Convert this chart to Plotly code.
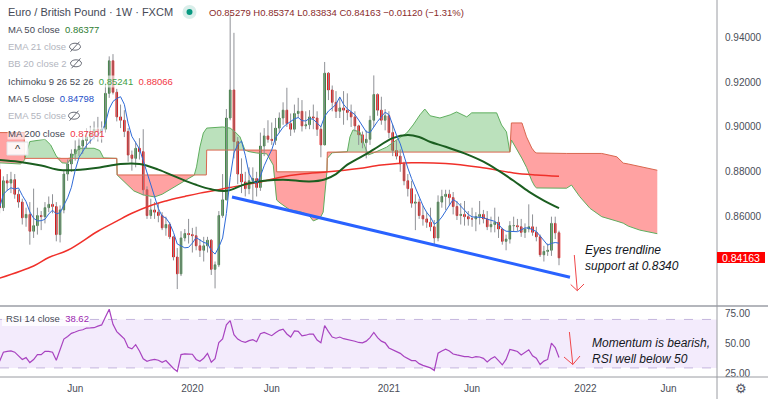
import numpy as np
import pandas as pd
import plotly.graph_objects as go

# ---------------- data (weekly EUR/GBP, FXCM) ----------------
START = pd.Timestamp("2019-01-14")
FIRST_OPEN = 0.8810

closes = [
    0.8640, 0.8760, 0.8750, 0.8765, 0.8700, 0.8665, 0.8595, 0.8610, 0.8535, 0.8560,
    0.8605, 0.8600, 0.8640, 0.8655, 0.8645, 0.8520, 0.8630, 0.8790, 0.8835, 0.8880,
    0.8900, 0.8915, 0.8940, 0.8955, 0.8975, 0.8990, 0.8980, 0.8990, 0.9150, 0.9295,
    0.9155, 0.9045, 0.9030, 0.8980, 0.8875, 0.8860, 0.8905, 0.8890, 0.8720, 0.8605,
    0.8630, 0.8620, 0.8605, 0.8550, 0.8565, 0.8510, 0.8420, 0.8345, 0.8505, 0.8525,
    0.8520, 0.8515, 0.8470, 0.8450, 0.8470, 0.8495, 0.8365, 0.8385, 0.8605, 0.8675,
    0.9040, 0.9165, 0.8935, 0.8790, 0.8755, 0.8725, 0.8760, 0.8770, 0.8730, 0.8915,
    0.8960, 0.8945, 0.8940, 0.8995, 0.9040, 0.9075, 0.9015, 0.8990, 0.9060, 0.9070,
    0.9005, 0.9010, 0.9045, 0.9040, 0.8990, 0.8920, 0.9240, 0.9165, 0.9110, 0.9070,
    0.9085, 0.9075, 0.9065, 0.9045, 0.9005, 0.8965, 0.8930, 0.8945, 0.9030, 0.9145,
    0.9075, 0.9030, 0.9050, 0.8975, 0.8895, 0.8870, 0.8835, 0.8760, 0.8725, 0.8660,
    0.8665, 0.8605, 0.8590, 0.8575, 0.8555, 0.8505, 0.8665, 0.8690, 0.8700, 0.8685,
    0.8645, 0.8605, 0.8610, 0.8600, 0.8590, 0.8590, 0.8600, 0.8610, 0.8590, 0.8555,
    0.8565, 0.8575, 0.8545, 0.8490, 0.8500, 0.8560, 0.8560, 0.8555, 0.8530, 0.8545,
    0.8555, 0.8530, 0.8510, 0.8430, 0.8445, 0.8450, 0.8570, 0.85279, 0.84163,
]
highs = [
    0.8850, 0.8780, 0.8790, 0.8800, 0.8790, 0.8720, 0.8680, 0.8640, 0.8665, 0.8725,
    0.8640, 0.8625, 0.8665, 0.8690, 0.8700, 0.8665, 0.8650, 0.8805, 0.8855, 0.8900,
    0.8940, 0.8950, 0.8970, 0.8995, 0.9005, 0.9025, 0.9045, 0.9025, 0.9195, 0.9315,
    0.9325, 0.9170, 0.9100, 0.9075, 0.8995, 0.8895, 0.8935, 0.8950, 0.8990, 0.8735,
    0.8680, 0.8665, 0.8660, 0.8620, 0.8600, 0.8575, 0.8515, 0.8460, 0.8535, 0.8545,
    0.8590, 0.8550, 0.8555, 0.8500, 0.8510, 0.8510, 0.8500, 0.8400, 0.8625, 0.8790,
    0.9080, 0.9499, 0.9420, 0.8955, 0.8860, 0.8800, 0.8820, 0.8820, 0.8800, 0.8975,
    0.8995, 0.9030, 0.9020, 0.9040, 0.9065, 0.9110, 0.9175, 0.9060, 0.9100, 0.9130,
    0.9120, 0.9070, 0.9075, 0.9100, 0.9070, 0.9005, 0.9290, 0.9245, 0.9185, 0.9160,
    0.9130, 0.9160, 0.9150, 0.9100, 0.9070, 0.9010, 0.8980, 0.8985, 0.9050, 0.9230,
    0.9150, 0.9135, 0.9080, 0.9070, 0.9010, 0.8940, 0.8900, 0.8845, 0.8790, 0.8760,
    0.8700, 0.8680, 0.8650, 0.8620, 0.8640, 0.8585, 0.8695, 0.8720, 0.8720, 0.8720,
    0.8710, 0.8670, 0.8660, 0.8670, 0.8625, 0.8640, 0.8620, 0.8670, 0.8630, 0.8625,
    0.8600, 0.8640, 0.8600, 0.8550, 0.8520, 0.8580, 0.8600, 0.8590, 0.8590, 0.8570,
    0.8655, 0.8610, 0.8555, 0.8520, 0.8470, 0.8480, 0.8600, 0.8600, 0.85374,
]
lows = [
    0.8615, 0.8625, 0.8715, 0.8705, 0.8680, 0.8640, 0.8565, 0.8555, 0.8475, 0.8505,
    0.8520, 0.8540, 0.8570, 0.8620, 0.8615, 0.8490, 0.8485, 0.8615, 0.8760, 0.8800,
    0.8850, 0.8870, 0.8880, 0.8905, 0.8925, 0.8945, 0.8935, 0.8930, 0.8975, 0.9130,
    0.9145, 0.9025, 0.8995, 0.8955, 0.8845, 0.8805, 0.8820, 0.8855, 0.8695, 0.8590,
    0.8590, 0.8590, 0.8575, 0.8540, 0.8515, 0.8500, 0.8405, 0.8277, 0.8335, 0.8490,
    0.8480, 0.8440, 0.8450, 0.8420, 0.8400, 0.8440, 0.8340, 0.8280, 0.8375, 0.8595,
    0.8675, 0.9030, 0.8860, 0.8745, 0.8705, 0.8690, 0.8700, 0.8670, 0.8690, 0.8715,
    0.8870, 0.8930, 0.8920, 0.8920, 0.8975, 0.9010, 0.9000, 0.8960, 0.8975, 0.9040,
    0.8980, 0.8990, 0.8990, 0.8990, 0.8960, 0.8865, 0.8920, 0.9120, 0.9070, 0.9040,
    0.9040, 0.9010, 0.9030, 0.9000, 0.8980, 0.8920, 0.8905, 0.8860, 0.8920, 0.9000,
    0.9050, 0.9010, 0.8985, 0.8950, 0.8870, 0.8855, 0.8800, 0.8740, 0.8690, 0.8640,
    0.8540, 0.8590, 0.8560, 0.8550, 0.8535, 0.8470, 0.8490, 0.8640, 0.8630, 0.8650,
    0.8610, 0.8585, 0.8565, 0.8560, 0.8560, 0.8555, 0.8535, 0.8565, 0.8570, 0.8540,
    0.8530, 0.8530, 0.8505, 0.8475, 0.8450, 0.8480, 0.8535, 0.8535, 0.8510, 0.8505,
    0.8530, 0.8515, 0.8490, 0.8420, 0.8400, 0.8425, 0.8425, 0.8500, 0.83834,
]
rsi_vals = [
    35.5, 42.9, 43.7, 44.0, 43.0, 39.6, 36.9, 38.5, 34.4, 36.9,
    41.0, 41.0, 43.7, 43.7, 42.9, 36.3, 45.1, 53.8, 56.0, 58.5,
    59.6, 60.9, 61.5, 62.9, 63.0, 63.2, 64.5, 65.5, 72.0, 78.4,
    66.0, 60.0, 57.0, 54.0, 47.0, 45.7, 49.2, 44.0, 37.5, 35.5,
    36.5, 37.0, 36.3, 34.7, 36.1, 32.5, 29.5, 27.0, 41.0, 41.6,
    41.5, 41.3, 37.0, 35.5, 38.0, 42.0, 34.7, 37.7, 51.0, 54.0,
    65.6, 69.1, 57.4, 53.8, 52.0, 51.1, 52.5, 53.3, 51.6, 58.2,
    59.3, 58.0, 56.6, 59.0, 61.0, 62.0, 58.0, 55.5, 60.6, 60.2,
    56.4, 57.0, 58.0, 57.9, 53.0, 50.7, 65.0, 60.0, 55.5, 54.5,
    55.5, 54.1, 53.5, 53.0, 52.0, 51.0, 50.7, 52.1, 55.0, 59.3,
    55.0, 52.1, 50.7, 46.5, 45.0, 43.6, 42.0, 39.5, 37.9, 36.0,
    36.0, 33.5, 32.1, 31.0, 30.0, 27.9, 42.1, 44.0, 45.4, 44.0,
    41.5, 40.7, 40.0, 39.3, 39.3, 38.4, 39.3, 39.0, 37.9, 35.0,
    37.5, 39.3, 36.0, 32.5, 37.0, 45.2, 44.5, 43.6, 40.7, 43.0,
    45.0, 40.0, 38.0, 32.8, 35.6, 37.0, 50.4, 46.8, 38.62,
]

# moving averages (week index, value)
ma50_idx = [0, 5, 11, 16, 20, 26, 32, 37, 42, 47, 52, 56, 60, 65, 70, 75, 82, 86, 89,
            92, 96, 99, 104, 108, 111, 114, 118, 123, 128, 132, 136, 140, 144, 148]
ma50_vals = [0.8853, 0.8845, 0.8828, 0.8808, 0.8808, 0.8818, 0.8835, 0.8835, 0.8810,
             0.8775, 0.8742, 0.8722, 0.8715, 0.8745, 0.8760, 0.8765, 0.8757, 0.8766,
             0.8790, 0.8832, 0.8870, 0.8900, 0.8950, 0.8964, 0.8955, 0.8933, 0.8912,
             0.8882, 0.8845, 0.8805, 0.8760, 0.8712, 0.8672, 0.8638]
ma200_idx = [0, 9, 13, 18, 26, 31, 35, 40, 44, 49, 53, 61, 69, 74, 80, 87, 95, 101,
             109, 118, 127, 136, 142, 148]
ma200_vals = [0.8326, 0.8380, 0.8418, 0.8450, 0.8535, 0.8580, 0.8615, 0.8650, 0.8670,
              0.8690, 0.8705, 0.8730, 0.8755, 0.8775, 0.8790, 0.8800, 0.8815, 0.8830,
              0.8840, 0.8837, 0.8820, 0.8795, 0.8786, 0.8780]

# Ichimoku cloud (leading spans, week index incl. 26-week projection)
cloud_idx = [0, 5.5, 6.5, 6.6, 8, 12, 13.5, 15, 16.5, 18, 19.5, 21, 25, 26.5, 27.5, 31,
             31.1, 33.5, 35.5, 38, 41, 43, 45, 47, 49.5, 51.5, 52.1, 53, 53.9, 54.7,
             54.8, 59, 61, 62.3, 63.6, 64.9, 66, 68, 70.7, 72.4, 73.2,
             73.3, 74.2, 76.8, 79.5, 81.7, 83, 84.8, 85.6, 86.3, 86.6,
             86.7, 88, 92, 92.7, 93.5, 95.3, 96.7, 97.5, 98.9, 100.6, 102.4, 105, 107.7,
             109.4, 111.2, 112.5, 113.9, 116.5, 119.2, 120.9, 123.6, 124.9, 131.5, 132.8,
             134.1, 135.0,
             135.4, 138.2, 139.4, 140.8, 141.6, 142.1, 150, 151.3, 153.5, 156.2, 159.3,
             163.3, 165, 166.3, 169.4, 174]
span_a = [0.8840, 0.8835, 0.8850, 0.8855, 0.8935, 0.8945, 0.8920, 0.8870, 0.8840, 0.8838,
          0.8875, 0.8905, 0.8905, 0.8895, 0.8862, 0.8860,
          0.8786, 0.8745, 0.8715, 0.8697, 0.8688, 0.8700, 0.8720, 0.8740, 0.8762, 0.8785,
          0.8822, 0.8911, 0.8973, 0.8995,
          0.8995, 0.9000, 0.8995, 0.8978, 0.8956, 0.8897, 0.8890, 0.8884, 0.8880, 0.8830,
          0.8674,
          0.8674, 0.8661, 0.8630, 0.8622, 0.8608, 0.8581, 0.8594, 0.8620, 0.8733, 0.8800,
          0.8860, 0.8885, 0.8890, 0.8956, 0.8987, 0.8978, 0.8911, 0.8875, 0.8884, 0.8895,
          0.8910, 0.8942, 0.8973, 0.9009, 0.9054, 0.9080, 0.9050, 0.9040, 0.9054, 0.9067,
          0.9045, 0.9063, 0.9063, 0.9009, 0.8978, 0.8888,
          0.8942, 0.8860, 0.8820, 0.8760, 0.8735, 0.8728, 0.8727, 0.8741, 0.8689, 0.8637,
          0.8600, 0.8580, 0.8571, 0.8558, 0.8540, 0.8524]
span_b = [0.8975, 0.8975, 0.8975, 0.8860, 0.8860, 0.8860, 0.8860, 0.8860, 0.8860, 0.8860,
          0.8860, 0.8860, 0.8860, 0.8860, 0.8860, 0.8860,
          0.8786, 0.8786, 0.8786, 0.8786, 0.8786, 0.8786, 0.8786, 0.8786, 0.8786, 0.8786,
          0.8786, 0.8786, 0.8786, 0.8786,
          0.8897, 0.8897, 0.8897, 0.8897, 0.8897, 0.8897, 0.8897, 0.8897, 0.8897, 0.8897,
          0.8897,
          0.8800, 0.8800, 0.8800, 0.8800, 0.8800, 0.8800, 0.8800, 0.8800, 0.8800, 0.8800,
          0.8888, 0.8888, 0.8888, 0.8888, 0.8888, 0.8888, 0.8888, 0.8888, 0.8888, 0.8888,
          0.8888, 0.8888, 0.8888, 0.8888, 0.8888, 0.8888, 0.8888, 0.8888, 0.8888, 0.8888,
          0.8888, 0.8888, 0.8888, 0.8888, 0.8888, 0.8888,
          0.9018, 0.9018, 0.8956, 0.8906, 0.8888, 0.8884, 0.8882, 0.8882, 0.8882, 0.8882,
          0.8882, 0.8867, 0.8839, 0.8835, 0.8823, 0.8807]

# drawn support trendline
trend_idx = [61.48, 150.9]
trend_vals = [0.8688, 0.8330]

tick_dates = ["2019-06-03", "2020-01-06", "2020-06-01", "2021-01-04",
              "2021-06-07", "2022-01-03", "2022-06-06"]
tick_text = ["Jun", "2020", "Jun", "2021", "Jun", "2022", "Jun"]
price_ticks = [0.86, 0.88, 0.90, 0.92, 0.94]
rsi_ticks = [25, 50, 75]

assert len(closes) == len(highs) == len(lows) == len(rsi_vals)
assert len(cloud_idx) == len(span_a) == len(span_b)

# ---------------- helpers ----------------
def wk(idx):
    return [START + pd.Timedelta(days=7 * float(v)) for v in idx]

PW, PH = 717.0, 377.0  # plot area in pixels


def px(x):
    return x / PW


def py(y):
    return (PH - y) / PH


FONT = "Liberation Sans, Arial, sans-serif"
GREEN = "#2e7d32"
RED = "#e30000"

dates = wk(range(len(closes)))
opens = [FIRST_OPEN] + closes[:-1]
body_hi = [max(o, c) for o, c in zip(opens, closes)]
body_lo = [min(o, c) for o, c in zip(opens, closes)]
ma5 = pd.Series(closes).rolling(5, min_periods=1).mean().tolist()

wx, wy = [], []
for d, h, l in zip(dates, highs, lows):
    wx += [d, d, None]
    wy += [l, h, None]

cdates = wk(cloud_idx)
a = np.array(span_a)
b = np.array(span_b)

fig = go.Figure()

# cloud
fig.add_trace(go.Scatter(x=cdates, y=b, mode="lines", line=dict(width=0), hoverinfo="skip"))
fig.add_trace(go.Scatter(x=cdates, y=np.maximum(a, b), mode="lines", line=dict(width=0),
                         fill="tonexty", fillcolor="rgba(76,175,80,0.38)", hoverinfo="skip"))
fig.add_trace(go.Scatter(x=cdates, y=b, mode="lines", line=dict(width=0), hoverinfo="skip"))
fig.add_trace(go.Scatter(x=cdates, y=np.minimum(a, b), mode="lines", line=dict(width=0),
                         fill="tonexty", fillcolor="rgba(255,70,70,0.5)", hoverinfo="skip"))
fig.add_trace(go.Scatter(x=cdates, y=a, mode="lines", line=dict(color="#5fae5f", width=1)))
fig.add_trace(go.Scatter(x=cdates, y=b, mode="lines", line=dict(color="#d9674f", width=1)))

# wicks and bodies
fig.add_trace(go.Scatter(x=wx, y=wy, mode="lines", line=dict(color="#8f9196", width=1),
                         hoverinfo="skip"))
fig.add_trace(go.Candlestick(
    x=dates, open=opens, high=body_hi, low=body_lo, close=closes,
    increasing=dict(line=dict(color=GREEN, width=1), fillcolor=GREEN),
    decreasing=dict(line=dict(color=RED, width=1), fillcolor=RED),
    whiskerwidth=0))

# moving averages
fig.add_trace(go.Scatter(x=wk(ma200_idx), y=ma200_vals, mode="lines", line_shape="spline",
                         line=dict(color="#f0302a", width=1.5)))
fig.add_trace(go.Scatter(x=wk(ma50_idx), y=ma50_vals, mode="lines", line_shape="spline",
                         line=dict(color="#1b5e20", width=2)))
fig.add_trace(go.Scatter(x=dates, y=ma5, mode="lines", line=dict(color="#2f6bd8", width=1)))

# trendline
fig.add_trace(go.Scatter(x=wk(trend_idx), y=trend_vals, mode="lines",
                         line=dict(color="#2962ff", width=3)))

# RSI
fig.add_trace(go.Scatter(x=dates, y=rsi_vals, mode="lines", xaxis="x2", yaxis="y2",
                         line=dict(color="#a843c0", width=1.2)))

x_left = START + pd.Timedelta(days=7 * 0.106)
x_right = START + pd.Timedelta(days=7 * 189.8)
MAIN_BOTTOM = (PH - 306) / PH

axis_font = dict(family=FONT, size=10, color="#4a4e59")
fig.update_layout(
    width=768, height=399,
    margin=dict(l=0, r=51, t=0, b=22),
    paper_bgcolor="white", plot_bgcolor="white",
    showlegend=False,
    boxgap=0.42,
    xaxis=dict(domain=[0, 1], range=[x_left, x_right], anchor="y", showticklabels=False,
               showgrid=False, zeroline=False, rangeslider=dict(visible=False), ticks=""),
    yaxis=dict(domain=[MAIN_BOTTOM, 1], range=[0.82015, 0.95664], side="right",
               tickvals=price_ticks, tickformat=".5f", showgrid=False, zeroline=False,
               ticks="", tickfont=axis_font, ticklabelstandoff=7),
    xaxis2=dict(domain=[0, 1], range=[x_left, x_right], anchor="y2",
                tickvals=tick_dates, ticktext=tick_text, showgrid=False, zeroline=False,
                ticks="", tickfont=axis_font, ticklabelstandoff=4),
    yaxis2=dict(domain=[0, MAIN_BOTTOM], range=[22.5, 81.1], side="right",
                tickvals=rsi_ticks, tickformat=".2f", showgrid=False, zeroline=False,
                ticks="", tickfont=axis_font, ticklabelstandoff=7),
)

shapes = []
# RSI band + dashed levels
shapes.append(dict(type="rect", xref="paper", yref="y2", x0=0, x1=1, y0=30, y1=70,
                   fillcolor="rgba(149,76,230,0.11)", line=dict(width=0), layer="below"))
for lvl in (30, 70):
    shapes.append(dict(type="line", xref="paper", yref="y2", x0=0, x1=1, y0=lvl, y1=lvl,
                       line=dict(color="#c4b5dd", width=1, dash="dash"), layer="below"))
# pane frame lines
shapes.append(dict(type="line", xref="paper", yref="paper", x0=0, x1=768 / PW,
                   y0=py(306), y1=py(306), line=dict(color="#b4b6bc", width=2)))
shapes.append(dict(type="line", xref="paper", yref="paper", x0=0, x1=768 / PW,
                   y0=py(377), y1=py(377), line=dict(color="#9a9ca2", width=1)))
shapes.append(dict(type="line", xref="paper", yref="paper", x0=1, x1=1,
                   y0=py(399), y1=py(0), line=dict(color="#9a9ca2", width=1)))
# last price label
shapes.append(dict(type="rect", xref="paper", yref="paper", x0=1, x1=px(765),
                   y0=py(263), y1=py(252), fillcolor="#ff0000", line=dict(width=0)))
# RSI legend background
shapes.append(dict(type="rect", xref="paper", yref="paper", x0=px(2), x1=px(89),
                   y0=py(326), y1=py(311), fillcolor="rgba(255,255,255,0.8)",
                   line=dict(width=0)))
# collapse button
shapes.append(dict(type="rect", xref="paper", yref="paper", x0=px(7), x1=px(28),
                   y0=py(155), y1=py(142), fillcolor="rgba(255,255,255,0.9)",
                   line=dict(color="#dfe1e6", width=1)))
# teal status dot
shapes.append(dict(type="circle", xref="paper", yref="paper", x0=px(182.5), x1=px(196.5),
                   y0=py(19), y1=py(5), fillcolor="#d9eeea", line=dict(width=0)))
shapes.append(dict(type="circle", xref="paper", yref="paper", x0=px(186.5), x1=px(192.5),
                   y0=py(15), y1=py(9), fillcolor="#089981", line=dict(width=0)))
# hidden-study eye icons
for cx, cy in ((75, 46.7), (76, 63.3), (74, 115.7)):
    shapes.append(dict(type="circle", xref="paper", yref="paper", x0=px(cx - 5.5),
                       x1=px(cx + 5.5), y0=py(cy + 3.5), y1=py(cy - 3.5),
                       line=dict(color="#6a6d78", width=1)))
    shapes.append(dict(type="line", xref="paper", yref="paper", x0=px(cx - 4.5),
                       x1=px(cx + 4.5), y0=py(cy + 5), y1=py(cy - 5),
                       line=dict(color="#6a6d78", width=1)))
# red arrows


def path(pts):
    return "M " + " L ".join(f"{px(x)},{py(y)}" for x, y in pts)


for pts in ([(574.3, 255), (577.3, 290.7)], [(570.7, 284.5), (577.3, 290.7), (584, 284)],
            [(569.4, 332), (572.8, 364.5)], [(564, 357), (572.8, 364.5), (580, 356)]):
    shapes.append(dict(type="path", xref="paper", yref="paper", path=path(pts),
                       line=dict(color="#f0474a", width=1)))
fig.update_layout(shapes=shapes)


def ann(x, y, text, size, color, xanchor="left", bg=None, align="left"):
    d = dict(x=px(x), y=py(y), xref="paper", yref="paper", text=text, showarrow=False,
             xanchor=xanchor, yanchor="middle", align=align,
             font=dict(family=FONT, size=size, color=color), borderpad=0)
    if bg:
        d["bgcolor"] = bg
    return d


DARK = "#454955"
HID = "#b2b5be"
BG = "rgba(255,255,255,0.6)"
anns = [
    ann(7, 12, "Euro / British Pound · 1W · FXCM", 11, DARK),
    ann(208, 12, "O0.85279 H0.85374 L0.83834 C0.84163 −0.01120 (−1.31%)", 9.5, "#8a2b2b"),
    ann(7, 29.3, 'MA 50 close  <span style="color:#2e7d32">0.86377</span>', 9.5, DARK, bg=BG),
    ann(7, 46.7, "EMA 21 close", 9.5, HID),
    ann(7, 63.3, "BB 20 close 2", 9.5, HID),
    ann(7, 81, 'Ichimoku 9 26 52 26  <span style="color:#43a047">0.85241</span>  '
               '<span style="color:#f23645">0.88066</span>', 9.5, DARK, bg=BG),
    ann(7, 98.7, 'MA 5 close  <span style="color:#1e50c8">0.84798</span>', 9.5, DARK, bg=BG),
    ann(7, 115.7, "EMA 55 close", 9.5, HID),
    ann(7, 133.3, 'MA 200 close  <span style="color:#f23645">0.87801</span>', 9.5, DARK, bg=BG),
    ann(17.5, 149, "^", 11, "#333333", xanchor="center"),
    ann(5, 318.5, 'RSI 14 close  <span style="color:#9c27b0">38.62</span>', 9.5, DARK),
    ann(584, 258, "<i>Eyes trendline<br>support at 0.8340</i>", 12, "#131722"),
    ann(591, 351, "<i>Momentum is bearish,<br>RSI well below 50</i>", 12, "#131722"),
    ann(741, 257.5, "0.84163", 10.5, "white", xanchor="center"),
    ann(741, 388, "⚙", 13, "#555866", xanchor="center"),
]
fig.update_layout(annotations=anns)

fig.write_html("out.html", config={"displayModeBar": False},
               post_script="document.body.style.margin='0';document.body.style.overflow='hidden';")
